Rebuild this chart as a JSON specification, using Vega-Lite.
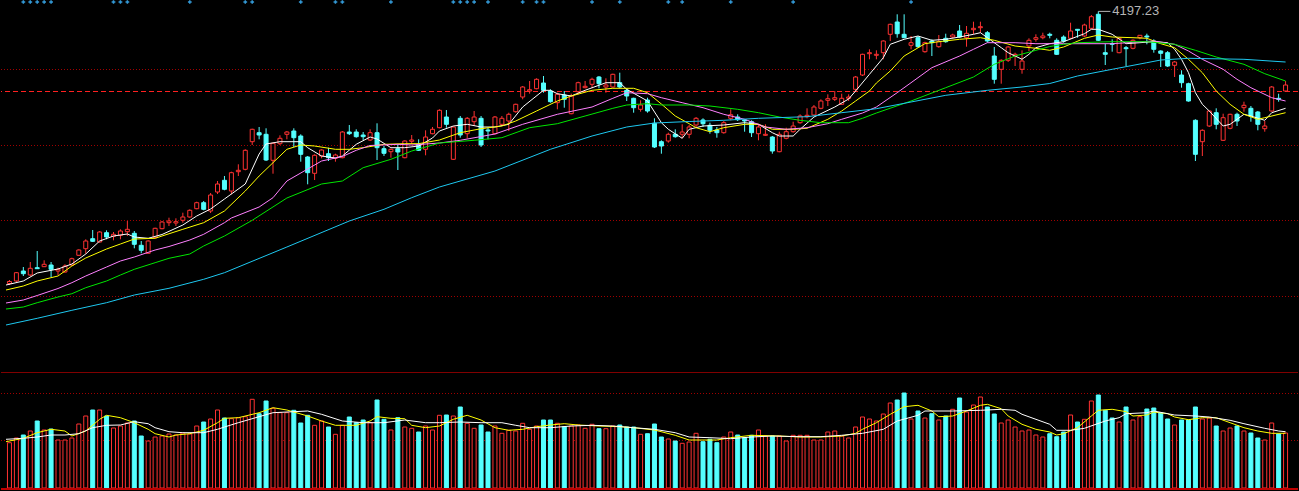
{
"$schema": "https://vega.github.io/schema/vega-lite/v6.json",
"width": 1299, "height": 491,
"autosize": {"type": "fit", "contains": "padding"},
"padding": 0,
"background": "#000000",
"config": {"view": {"stroke": null}},
"datasets": {
"k": [
{"t":0,"o":3653,"h":3660,"l":3650,"c":3657,"v":453,"d":"u"},
{"t":1,"o":3658,"h":3676,"l":3656,"c":3674.6,"v":500,"d":"u"},
{"t":2,"o":3678,"h":3686,"l":3668,"c":3672.6,"v":530,"d":"d"},
{"t":3,"o":3670,"h":3696,"l":3668,"c":3683.4,"v":570,"d":"u"},
{"t":4,"o":3684.6,"h":3718,"l":3682,"c":3682.6,"v":670,"d":"d"},
{"t":5,"o":3686.6,"h":3699.4,"l":3686,"c":3691.4,"v":580,"d":"u"},
{"t":6,"o":3690,"h":3696,"l":3666,"c":3681.4,"v":590,"d":"d"},
{"t":7,"o":3678,"h":3684.6,"l":3670,"c":3681.4,"v":480,"d":"u"},
{"t":8,"o":3676,"h":3691.4,"l":3674.6,"c":3688,"v":480,"d":"u"},
{"t":9,"o":3690,"h":3704.6,"l":3688,"c":3702.6,"v":500,"d":"u"},
{"t":10,"o":3709.4,"h":3721.4,"l":3708,"c":3720,"v":640,"d":"u"},
{"t":11,"o":3722.6,"h":3741.4,"l":3712.6,"c":3738,"v":720,"d":"u"},
{"t":12,"o":3742.6,"h":3760,"l":3736,"c":3737.4,"v":780,"d":"d"},
{"t":13,"o":3736,"h":3758,"l":3734.6,"c":3756,"v":780,"d":"u"},
{"t":14,"o":3754.6,"h":3759.4,"l":3741.4,"c":3746,"v":720,"d":"d"},
{"t":15,"o":3747.4,"h":3756,"l":3739.4,"c":3751.4,"v":600,"d":"u"},
{"t":16,"o":3749.4,"h":3761.4,"l":3741.4,"c":3758,"v":620,"d":"u"},
{"t":17,"o":3756.6,"h":3778,"l":3748,"c":3761.4,"v":650,"d":"u"},
{"t":18,"o":3753.4,"h":3758,"l":3723.4,"c":3731.4,"v":670,"d":"d"},
{"t":19,"o":3729.4,"h":3738,"l":3713.4,"c":3719.4,"v":520,"d":"d"},
{"t":20,"o":3713.4,"h":3739.4,"l":3712.6,"c":3738,"v":470,"d":"u"},
{"t":21,"o":3744.6,"h":3764.6,"l":3743.4,"c":3763.4,"v":510,"d":"u"},
{"t":22,"o":3762.6,"h":3778,"l":3761.4,"c":3776,"v":520,"d":"u"},
{"t":23,"o":3774.6,"h":3784.6,"l":3768,"c":3778,"v":540,"d":"u"},
{"t":24,"o":3774,"h":3783.4,"l":3768,"c":3776.6,"v":530,"d":"u"},
{"t":25,"o":3779.4,"h":3794.6,"l":3774.6,"c":3786,"v":550,"d":"u"},
{"t":26,"o":3786,"h":3801.4,"l":3784.6,"c":3799.4,"v":540,"d":"u"},
{"t":27,"o":3802.6,"h":3816.6,"l":3801.4,"c":3814.6,"v":620,"d":"u"},
{"t":28,"o":3814.6,"h":3818,"l":3799.4,"c":3801.4,"v":660,"d":"d"},
{"t":29,"o":3798,"h":3834,"l":3794,"c":3830,"v":690,"d":"u"},
{"t":30,"o":3836,"h":3858,"l":3832,"c":3852,"v":780,"d":"u"},
{"t":31,"o":3859.4,"h":3868,"l":3839.4,"c":3841.4,"v":700,"d":"d"},
{"t":32,"o":3838,"h":3876.6,"l":3831.4,"c":3874.6,"v":693,"d":"u"},
{"t":33,"o":3876.6,"h":3891.4,"l":3868,"c":3879.4,"v":703,"d":"u"},
{"t":34,"o":3881.4,"h":3921.4,"l":3879.4,"c":3919.4,"v":713,"d":"u"},
{"t":35,"o":3936.6,"h":3962.6,"l":3930,"c":3961.4,"v":887,"d":"u"},
{"t":36,"o":3954.6,"h":3966,"l":3941.4,"c":3950,"v":743,"d":"d"},
{"t":37,"o":3951.4,"h":3963.4,"l":3898,"c":3900,"v":870,"d":"d"},
{"t":38,"o":3899.4,"h":3934.6,"l":3872.6,"c":3933.4,"v":797,"d":"u"},
{"t":39,"o":3932.6,"h":3949.4,"l":3930,"c":3943.4,"v":753,"d":"u"},
{"t":40,"o":3951.4,"h":3958,"l":3941.4,"c":3956,"v":753,"d":"u"},
{"t":41,"o":3958,"h":3963.4,"l":3926,"c":3944.6,"v":777,"d":"d"},
{"t":42,"o":3948,"h":3951.4,"l":3896.6,"c":3911.4,"v":650,"d":"d"},
{"t":43,"o":3906,"h":3908,"l":3851.4,"c":3874.6,"v":727,"d":"d"},
{"t":44,"o":3873.4,"h":3911.4,"l":3860,"c":3909.4,"v":627,"d":"u"},
{"t":45,"o":3908,"h":3921.4,"l":3903.4,"c":3920,"v":670,"d":"u"},
{"t":46,"o":3912.6,"h":3924.6,"l":3898,"c":3904.6,"v":610,"d":"d"},
{"t":47,"o":3903.4,"h":3912.6,"l":3896.6,"c":3910,"v":537,"d":"u"},
{"t":48,"o":3904.6,"h":3958,"l":3903.4,"c":3956,"v":627,"d":"u"},
{"t":49,"o":3956,"h":3970,"l":3950,"c":3952.6,"v":710,"d":"d"},
{"t":50,"o":3956,"h":3961.4,"l":3944.6,"c":3946.6,"v":653,"d":"d"},
{"t":51,"o":3950,"h":3956,"l":3940,"c":3946.6,"v":680,"d":"d"},
{"t":52,"o":3940,"h":3961.4,"l":3938,"c":3954.6,"v":653,"d":"u"},
{"t":53,"o":3954.6,"h":3973.4,"l":3900,"c":3924.6,"v":880,"d":"d"},
{"t":54,"o":3922.6,"h":3928,"l":3908,"c":3913.4,"v":687,"d":"d"},
{"t":55,"o":3916.6,"h":3922.6,"l":3904.6,"c":3921.4,"v":580,"d":"u"},
{"t":56,"o":3922.6,"h":3931.4,"l":3880,"c":3916,"v":703,"d":"d"},
{"t":57,"o":3904.6,"h":3939.4,"l":3903.4,"c":3938,"v":610,"d":"u"},
{"t":58,"o":3937.4,"h":3950,"l":3931.4,"c":3940,"v":597,"d":"u"},
{"t":59,"o":3931.4,"h":3941.4,"l":3918,"c":3919.4,"v":560,"d":"d"},
{"t":60,"o":3921.4,"h":3959.4,"l":3909.4,"c":3946,"v":620,"d":"u"},
{"t":61,"o":3952.6,"h":3966,"l":3951.4,"c":3961.4,"v":580,"d":"u"},
{"t":62,"o":3964.6,"h":4001.4,"l":3963.4,"c":3999.4,"v":727,"d":"u"},
{"t":63,"o":3986,"h":4000,"l":3964.6,"c":3971.4,"v":730,"d":"d"},
{"t":64,"o":3901.4,"h":3967.4,"l":3900,"c":3966,"v":720,"d":"u"},
{"t":65,"o":3983.4,"h":3988,"l":3944.6,"c":3950,"v":810,"d":"d"},
{"t":66,"o":3952.6,"h":3986,"l":3943.4,"c":3983.4,"v":647,"d":"u"},
{"t":67,"o":3976.6,"h":3998,"l":3968,"c":3986,"v":597,"d":"u"},
{"t":68,"o":3983.4,"h":3988,"l":3926,"c":3930,"v":630,"d":"d"},
{"t":69,"o":3960,"h":3964.6,"l":3941.4,"c":3958,"v":560,"d":"d"},
{"t":70,"o":3952.6,"h":3988,"l":3951.4,"c":3986,"v":620,"d":"u"},
{"t":71,"o":3971.4,"h":3988,"l":3968,"c":3983.4,"v":547,"d":"u"},
{"t":72,"o":3978,"h":3994.6,"l":3958,"c":3991.4,"v":577,"d":"u"},
{"t":73,"o":3996.6,"h":4012.6,"l":3994.6,"c":4011.4,"v":570,"d":"u"},
{"t":74,"o":4026,"h":4048,"l":4021.4,"c":4046,"v":647,"d":"u"},
{"t":75,"o":4038,"h":4058,"l":4032.6,"c":4040.6,"v":587,"d":"u"},
{"t":76,"o":4042.6,"h":4063.4,"l":4041.4,"c":4061.4,"v":620,"d":"u"},
{"t":77,"o":4054,"h":4068,"l":4034.6,"c":4039.4,"v":680,"d":"d"},
{"t":78,"o":4038,"h":4041.4,"l":4014.6,"c":4016.6,"v":680,"d":"d"},
{"t":79,"o":4014.6,"h":4034.6,"l":4001.4,"c":4031.4,"v":647,"d":"u"},
{"t":80,"o":4030,"h":4038,"l":4004.6,"c":4021.4,"v":613,"d":"d"},
{"t":81,"o":3992.6,"h":4032.6,"l":3991.4,"c":4028,"v":620,"d":"u"},
{"t":82,"o":4036.6,"h":4056.6,"l":4031.4,"c":4054.6,"v":630,"d":"u"},
{"t":83,"o":4044.6,"h":4058,"l":4043.4,"c":4047.4,"v":597,"d":"u"},
{"t":84,"o":4051.4,"h":4064.6,"l":4043.4,"c":4061.4,"v":637,"d":"u"},
{"t":85,"o":4066,"h":4068,"l":4043.4,"c":4052.6,"v":593,"d":"d"},
{"t":86,"o":4046,"h":4063.4,"l":4034.6,"c":4050,"v":593,"d":"u"},
{"t":87,"o":4046,"h":4072.6,"l":4044.6,"c":4071.4,"v":620,"d":"u"},
{"t":88,"o":4054.6,"h":4074.6,"l":4043.4,"c":4046,"v":630,"d":"d"},
{"t":89,"o":4039.4,"h":4043.4,"l":4018,"c":4028,"v":610,"d":"d"},
{"t":90,"o":4023.4,"h":4024.6,"l":3994.6,"c":4004.6,"v":610,"d":"d"},
{"t":91,"o":4001.4,"h":4019.4,"l":3996.6,"c":4010,"v":537,"d":"u"},
{"t":92,"o":4020,"h":4024.6,"l":3994.6,"c":3998,"v":543,"d":"d"},
{"t":93,"o":3973.4,"h":3983.4,"l":3924,"c":3926,"v":640,"d":"d"},
{"t":94,"o":3936.6,"h":3939.4,"l":3912.6,"c":3928,"v":510,"d":"d"},
{"t":95,"o":3938,"h":3954.6,"l":3934.6,"c":3951.4,"v":490,"d":"u"},
{"t":96,"o":3951.4,"h":3961.4,"l":3944.6,"c":3946.6,"v":470,"d":"d"},
{"t":97,"o":3951.4,"h":3971.4,"l":3943.4,"c":3956,"v":447,"d":"u"},
{"t":98,"o":3951.4,"h":3970,"l":3943.4,"c":3966,"v":460,"d":"u"},
{"t":99,"o":3970,"h":3986,"l":3966,"c":3983.4,"v":547,"d":"u"},
{"t":100,"o":3980,"h":3983.4,"l":3966,"c":3972.6,"v":463,"d":"d"},
{"t":101,"o":3969.4,"h":3974.6,"l":3952.6,"c":3959.4,"v":487,"d":"d"},
{"t":102,"o":3960,"h":3966,"l":3944.6,"c":3954.6,"v":453,"d":"d"},
{"t":103,"o":3954.6,"h":3978,"l":3952.6,"c":3974.6,"v":510,"d":"u"},
{"t":104,"o":3983.4,"h":4001.4,"l":3979.4,"c":3990.6,"v":560,"d":"u"},
{"t":105,"o":3986,"h":3991.4,"l":3978,"c":3980.6,"v":530,"d":"d"},
{"t":106,"o":3980,"h":3981.4,"l":3956.6,"c":3978,"v":503,"d":"d"},
{"t":107,"o":3976.6,"h":3979.4,"l":3946,"c":3954.6,"v":527,"d":"d"},
{"t":108,"o":3952.6,"h":3970,"l":3939.4,"c":3966,"v":580,"d":"u"},
{"t":109,"o":3949.4,"h":3971.4,"l":3948,"c":3951.4,"v":520,"d":"u"},
{"t":110,"o":3946,"h":3948,"l":3912.6,"c":3918,"v":520,"d":"d"},
{"t":111,"o":3916.6,"h":3956.6,"l":3915.4,"c":3951.4,"v":520,"d":"u"},
{"t":112,"o":3943.4,"h":3964.6,"l":3941.4,"c":3956.6,"v":470,"d":"u"},
{"t":113,"o":3956.6,"h":3976.6,"l":3954.6,"c":3968,"v":527,"d":"u"},
{"t":114,"o":3974.6,"h":3991.4,"l":3972.6,"c":3988,"v":527,"d":"u"},
{"t":115,"o":3986.6,"h":4003.4,"l":3983.4,"c":3989.4,"v":527,"d":"u"},
{"t":116,"o":3990,"h":4010,"l":3988,"c":4006,"v":480,"d":"u"},
{"t":117,"o":4003.4,"h":4021.4,"l":4001.4,"c":4018,"v":480,"d":"u"},
{"t":118,"o":4019.4,"h":4031.4,"l":4008,"c":4022.6,"v":560,"d":"u"},
{"t":119,"o":4021.4,"h":4038,"l":4018,"c":4024.6,"v":570,"d":"u"},
{"t":120,"o":4011.4,"h":4032.6,"l":4010,"c":4023.4,"v":520,"d":"u"},
{"t":121,"o":4023.4,"h":4031.4,"l":4018,"c":4026,"v":500,"d":"u"},
{"t":122,"o":4041.4,"h":4068,"l":4038,"c":4066,"v":610,"d":"u"},
{"t":123,"o":4070,"h":4112.6,"l":4068,"c":4111.4,"v":710,"d":"u"},
{"t":124,"o":4112.6,"h":4121.4,"l":4101.4,"c":4114.6,"v":690,"d":"u"},
{"t":125,"o":4109.4,"h":4119.4,"l":4101.4,"c":4111.4,"v":670,"d":"u"},
{"t":126,"o":4114.6,"h":4139.4,"l":4101.4,"c":4138,"v":740,"d":"u"},
{"t":127,"o":4151.4,"h":4172.6,"l":4138,"c":4171.4,"v":850,"d":"u"},
{"t":128,"o":4176,"h":4191.4,"l":4144.6,"c":4152.6,"v":880,"d":"d"},
{"t":129,"o":4151.4,"h":4191.4,"l":4143.4,"c":4144.6,"v":950,"d":"d"},
{"t":130,"o":4129.4,"h":4148,"l":4121.4,"c":4134.6,"v":690,"d":"u"},
{"t":131,"o":4144.6,"h":4148,"l":4124.6,"c":4126.6,"v":770,"d":"d"},
{"t":132,"o":4116.6,"h":4136.6,"l":4114.6,"c":4134.6,"v":700,"d":"u"},
{"t":133,"o":4138,"h":4141.4,"l":4108,"c":4134.6,"v":743,"d":"d"},
{"t":134,"o":4126.6,"h":4150,"l":4124.6,"c":4136.6,"v":680,"d":"u"},
{"t":135,"o":4143.4,"h":4152.6,"l":4134.6,"c":4136.6,"v":720,"d":"d"},
{"t":136,"o":4146,"h":4152.6,"l":4143.4,"c":4150,"v":787,"d":"u"},
{"t":137,"o":4158,"h":4170,"l":4144.6,"c":4146,"v":900,"d":"d"},
{"t":138,"o":4144.6,"h":4168,"l":4126.6,"c":4153.4,"v":760,"d":"u"},
{"t":139,"o":4160.6,"h":4176.6,"l":4151.4,"c":4163.4,"v":830,"d":"u"},
{"t":140,"o":4164.6,"h":4176.6,"l":4154.6,"c":4166.6,"v":910,"d":"u"},
{"t":141,"o":4154.6,"h":4158,"l":4134.6,"c":4138,"v":810,"d":"d"},
{"t":142,"o":4108,"h":4126,"l":4052.6,"c":4061.4,"v":740,"d":"d"},
{"t":143,"o":4081.4,"h":4101.4,"l":4052.6,"c":4099.4,"v":650,"d":"u"},
{"t":144,"o":4099.4,"h":4128,"l":4096,"c":4126,"v":680,"d":"u"},
{"t":145,"o":4108,"h":4114.6,"l":4088,"c":4111.4,"v":610,"d":"u"},
{"t":146,"o":4081.4,"h":4119.4,"l":4072.6,"c":4098,"v":570,"d":"u"},
{"t":147,"o":4128,"h":4143.4,"l":4118,"c":4139.4,"v":580,"d":"u"},
{"t":148,"o":4141.4,"h":4151.4,"l":4136.6,"c":4144.6,"v":530,"d":"u"},
{"t":149,"o":4144.6,"h":4154.6,"l":4141.4,"c":4148,"v":510,"d":"u"},
{"t":150,"o":4151.4,"h":4154.6,"l":4143.4,"c":4149.4,"v":543,"d":"d"},
{"t":151,"o":4139.4,"h":4143.4,"l":4110,"c":4111.4,"v":513,"d":"d"},
{"t":152,"o":4146,"h":4149.4,"l":4134.6,"c":4138,"v":560,"d":"d"},
{"t":153,"o":4143.4,"h":4174.6,"l":4141.4,"c":4158,"v":730,"d":"u"},
{"t":154,"o":4161.4,"h":4162,"l":4144.6,"c":4159.4,"v":660,"d":"d"},
{"t":155,"o":4148,"h":4172.6,"l":4146,"c":4170,"v":687,"d":"u"},
{"t":156,"o":4163.4,"h":4190,"l":4161.4,"c":4186.6,"v":870,"d":"u"},
{"t":157,"o":4191.4,"h":4197.23,"l":4138,"c":4139.4,"v":930,"d":"d"},
{"t":158,"o":4114.6,"h":4132.6,"l":4090,"c":4111.4,"v":777,"d":"d"},
{"t":159,"o":4132.6,"h":4141.4,"l":4116.6,"c":4131.4,"v":700,"d":"d"},
{"t":160,"o":4114.6,"h":4144.6,"l":4113.4,"c":4143.4,"v":660,"d":"u"},
{"t":161,"o":4124.6,"h":4128,"l":4088,"c":4122.6,"v":810,"d":"d"},
{"t":162,"o":4123.4,"h":4141.4,"l":4121.4,"c":4139.4,"v":680,"d":"u"},
{"t":163,"o":4144.6,"h":4150,"l":4141.4,"c":4149.4,"v":713,"d":"u"},
{"t":164,"o":4148,"h":4152.6,"l":4131.4,"c":4146,"v":790,"d":"d"},
{"t":165,"o":4138,"h":4141.4,"l":4114.6,"c":4121.4,"v":800,"d":"d"},
{"t":166,"o":4118,"h":4119.4,"l":4086,"c":4113.4,"v":750,"d":"d"},
{"t":167,"o":4114.6,"h":4118,"l":4086,"c":4088,"v":690,"d":"d"},
{"t":168,"o":4089.4,"h":4098,"l":4066,"c":4096,"v":630,"d":"u"},
{"t":169,"o":4070,"h":4079.4,"l":4044.6,"c":4054.6,"v":680,"d":"d"},
{"t":170,"o":4052.6,"h":4054.6,"l":4016.6,"c":4018,"v":680,"d":"d"},
{"t":171,"o":3979.4,"h":3981.4,"l":3898,"c":3911.4,"v":810,"d":"d"},
{"t":172,"o":3936.6,"h":3961.4,"l":3908,"c":3959.4,"v":690,"d":"u"},
{"t":173,"o":3968,"h":3999.4,"l":3966,"c":3998,"v":700,"d":"u"},
{"t":174,"o":3994.6,"h":4003.4,"l":3961.4,"c":3971.4,"v":620,"d":"d"},
{"t":175,"o":3939.4,"h":3992.6,"l":3938,"c":3984.6,"v":570,"d":"u"},
{"t":176,"o":3963.4,"h":3992.6,"l":3961.4,"c":3991.4,"v":600,"d":"u"},
{"t":177,"o":3991.4,"h":3994.6,"l":3968,"c":3978,"v":620,"d":"d"},
{"t":178,"o":4004.6,"h":4016.6,"l":3996.6,"c":4009.4,"v":570,"d":"u"},
{"t":179,"o":4003.4,"h":4008,"l":3976.6,"c":3988,"v":550,"d":"d"},
{"t":180,"o":3996,"h":3998,"l":3959.4,"c":3971.4,"v":500,"d":"d"},
{"t":181,"o":3962.6,"h":3978,"l":3956.6,"c":3968,"v":480,"d":"u"},
{"t":182,"o":3998,"h":4048,"l":3996.6,"c":4046,"v":650,"d":"u"},
{"t":183,"o":4023.4,"h":4032.6,"l":4016.6,"c":4021.4,"v":540,"d":"d"},
{"t":184,"o":4038,"h":4058,"l":4036,"c":4050,"v":550,"d":"u"}
],
"ma": [
{"s":"MA5","t":-0.5,"p":3650},{"s":"MA5","t":2,"p":3658},{"s":"MA5","t":4,"p":3674},{"s":"MA5","t":7,"p":3682},{"s":"MA5","t":9,"p":3692},{"s":"MA5","t":11,"p":3712},{"s":"MA5","t":13,"p":3738},{"s":"MA5","t":15,"p":3748},{"s":"MA5","t":17,"p":3752},{"s":"MA5","t":18,"p":3746},{"s":"MA5","t":20,"p":3743.4},{"s":"MA5","t":22,"p":3751},{"s":"MA5","t":25,"p":3770},{"s":"MA5","t":27,"p":3788},{"s":"MA5","t":29,"p":3802},{"s":"MA5","t":31,"p":3822},{"s":"MA5","t":34,"p":3852},{"s":"MA5","t":36,"p":3912},{"s":"MA5","t":37,"p":3932},{"s":"MA5","t":39,"p":3936.6},{"s":"MA5","t":42,"p":3936.6},{"s":"MA5","t":43,"p":3924.6},{"s":"MA5","t":45,"p":3908},{"s":"MA5","t":47,"p":3904},{"s":"MA5","t":48,"p":3908},{"s":"MA5","t":50,"p":3931.4},{"s":"MA5","t":52,"p":3946},{"s":"MA5","t":53,"p":3942},{"s":"MA5","t":55,"p":3924.6},{"s":"MA5","t":57,"p":3924.6},{"s":"MA5","t":59,"p":3928},{"s":"MA5","t":61,"p":3944},{"s":"MA5","t":62,"p":3958},{"s":"MA5","t":64,"p":3968},{"s":"MA5","t":66,"p":3971.4},{"s":"MA5","t":68,"p":3966},{"s":"MA5","t":70,"p":3966},{"s":"MA5","t":72,"p":3971.4},{"s":"MA5","t":74,"p":4006},{"s":"MA5","t":77,"p":4039.4},{"s":"MA5","t":78,"p":4039.4},{"s":"MA5","t":79,"p":4032.6},{"s":"MA5","t":81,"p":4028},{"s":"MA5","t":83,"p":4039.4},{"s":"MA5","t":86,"p":4054.6},{"s":"MA5","t":88,"p":4054.6},{"s":"MA5","t":89,"p":4041.4},{"s":"MA5","t":92,"p":4018},{"s":"MA5","t":94,"p":3974.6},{"s":"MA5","t":95,"p":3961.4},{"s":"MA5","t":97,"p":3943.4},{"s":"MA5","t":98,"p":3961.4},{"s":"MA5","t":100,"p":3968},{"s":"MA5","t":103,"p":3970},{"s":"MA5","t":106,"p":3974.6},{"s":"MA5","t":108,"p":3971.4},{"s":"MA5","t":110,"p":3954.6},{"s":"MA5","t":111,"p":3948},{"s":"MA5","t":113,"p":3948},{"s":"MA5","t":114,"p":3961.4},{"s":"MA5","t":116,"p":3986},{"s":"MA5","t":119,"p":4006},{"s":"MA5","t":121,"p":4022},{"s":"MA5","t":122,"p":4038},{"s":"MA5","t":124,"p":4071.4},{"s":"MA5","t":126,"p":4104.6},{"s":"MA5","t":127,"p":4131.4},{"s":"MA5","t":129,"p":4141.4},{"s":"MA5","t":131,"p":4148},{"s":"MA5","t":133,"p":4139.4},{"s":"MA5","t":135,"p":4141.4},{"s":"MA5","t":137,"p":4146},{"s":"MA5","t":139,"p":4151.4},{"s":"MA5","t":140,"p":4154.6},{"s":"MA5","t":141,"p":4144.6},{"s":"MA5","t":143,"p":4124.6},{"s":"MA5","t":144,"p":4114.6},{"s":"MA5","t":146,"p":4101.4},{"s":"MA5","t":147,"p":4111.4},{"s":"MA5","t":148,"p":4124.6},{"s":"MA5","t":150,"p":4132.6},{"s":"MA5","t":152,"p":4136.6},{"s":"MA5","t":155,"p":4152.6},{"s":"MA5","t":156,"p":4161.4},{"s":"MA5","t":157,"p":4161.4},{"s":"MA5","t":159,"p":4151.4},{"s":"MA5","t":161,"p":4132.6},{"s":"MA5","t":163,"p":4134.6},{"s":"MA5","t":165,"p":4136.6},{"s":"MA5","t":167,"p":4134.6},{"s":"MA5","t":168,"p":4121.4},{"s":"MA5","t":169,"p":4101.4},{"s":"MA5","t":170,"p":4074.6},{"s":"MA5","t":171,"p":4034.6},{"s":"MA5","t":172,"p":4011.4},{"s":"MA5","t":173,"p":3998},{"s":"MA5","t":175,"p":3968},{"s":"MA5","t":176,"p":3971.4},{"s":"MA5","t":178,"p":3991.4},{"s":"MA5","t":179,"p":3988},{"s":"MA5","t":181,"p":3979.4},{"s":"MA5","t":182,"p":3994.6},{"s":"MA5","t":184,"p":4003.4},
{"s":"MA10","t":-0.5,"p":3640},{"s":"MA10","t":2,"p":3648},{"s":"MA10","t":4,"p":3658},{"s":"MA10","t":7,"p":3668},{"s":"MA10","t":9,"p":3688},{"s":"MA10","t":11,"p":3704},{"s":"MA10","t":14,"p":3722},{"s":"MA10","t":16,"p":3732},{"s":"MA10","t":18,"p":3742},{"s":"MA10","t":21,"p":3743.4},{"s":"MA10","t":22,"p":3748},{"s":"MA10","t":25,"p":3761.4},{"s":"MA10","t":28,"p":3774.6},{"s":"MA10","t":31,"p":3798},{"s":"MA10","t":34,"p":3838},{"s":"MA10","t":36,"p":3868},{"s":"MA10","t":38,"p":3894.6},{"s":"MA10","t":40,"p":3921.4},{"s":"MA10","t":42,"p":3930},{"s":"MA10","t":44,"p":3928},{"s":"MA10","t":47,"p":3921.4},{"s":"MA10","t":49,"p":3921.4},{"s":"MA10","t":51,"p":3924.6},{"s":"MA10","t":54,"p":3931.4},{"s":"MA10","t":57,"p":3932.6},{"s":"MA10","t":59,"p":3932.6},{"s":"MA10","t":62,"p":3940},{"s":"MA10","t":65,"p":3954.6},{"s":"MA10","t":68,"p":3962.6},{"s":"MA10","t":71,"p":3968},{"s":"MA10","t":73,"p":3978},{"s":"MA10","t":76,"p":3998},{"s":"MA10","t":79,"p":4018},{"s":"MA10","t":81,"p":4028},{"s":"MA10","t":84,"p":4039.4},{"s":"MA10","t":87,"p":4043.4},{"s":"MA10","t":90,"p":4043.4},{"s":"MA10","t":92,"p":4034.6},{"s":"MA10","t":94,"p":4012},{"s":"MA10","t":96,"p":3988},{"s":"MA10","t":98,"p":3972.6},{"s":"MA10","t":99,"p":3964.6},{"s":"MA10","t":101,"p":3956.6},{"s":"MA10","t":103,"p":3964.6},{"s":"MA10","t":106,"p":3971.4},{"s":"MA10","t":108,"p":3971.4},{"s":"MA10","t":110,"p":3961.4},{"s":"MA10","t":113,"p":3961.4},{"s":"MA10","t":115,"p":3963.4},{"s":"MA10","t":118,"p":3981.4},{"s":"MA10","t":120,"p":3998},{"s":"MA10","t":122,"p":4018},{"s":"MA10","t":124,"p":4038},{"s":"MA10","t":125,"p":4054},{"s":"MA10","t":127,"p":4078},{"s":"MA10","t":129,"p":4108},{"s":"MA10","t":132,"p":4132.6},{"s":"MA10","t":134,"p":4136.6},{"s":"MA10","t":137,"p":4141.4},{"s":"MA10","t":140,"p":4144.6},{"s":"MA10","t":142,"p":4139.4},{"s":"MA10","t":145,"p":4128},{"s":"MA10","t":148,"p":4123.4},{"s":"MA10","t":150,"p":4119.4},{"s":"MA10","t":152,"p":4126},{"s":"MA10","t":155,"p":4143.4},{"s":"MA10","t":157,"p":4150},{"s":"MA10","t":159,"p":4146},{"s":"MA10","t":162,"p":4144.6},{"s":"MA10","t":164,"p":4143.4},{"s":"MA10","t":166,"p":4132.6},{"s":"MA10","t":168,"p":4124.6},{"s":"MA10","t":170,"p":4101.4},{"s":"MA10","t":172,"p":4074.6},{"s":"MA10","t":174,"p":4038},{"s":"MA10","t":176,"p":4011.4},{"s":"MA10","t":178,"p":3991.4},{"s":"MA10","t":180,"p":3981.4},{"s":"MA10","t":181,"p":3984.6},{"s":"MA10","t":184,"p":3994.6},
{"s":"MA20","t":-0.5,"p":3614},{"s":"MA20","t":2,"p":3620},{"s":"MA20","t":4,"p":3629},{"s":"MA20","t":7,"p":3643},{"s":"MA20","t":9,"p":3654.6},{"s":"MA20","t":11,"p":3668},{"s":"MA20","t":14,"p":3686},{"s":"MA20","t":16,"p":3698},{"s":"MA20","t":18,"p":3706},{"s":"MA20","t":21,"p":3720},{"s":"MA20","t":23,"p":3727},{"s":"MA20","t":26,"p":3740},{"s":"MA20","t":28,"p":3751.4},{"s":"MA20","t":31,"p":3774.6},{"s":"MA20","t":32,"p":3784},{"s":"MA20","t":36,"p":3806},{"s":"MA20","t":38,"p":3824.6},{"s":"MA20","t":40,"p":3858},{"s":"MA20","t":43,"p":3882},{"s":"MA20","t":45,"p":3898},{"s":"MA20","t":48,"p":3907},{"s":"MA20","t":50,"p":3919.4},{"s":"MA20","t":52,"p":3929},{"s":"MA20","t":56,"p":3931.4},{"s":"MA20","t":58,"p":3930},{"s":"MA20","t":62,"p":3934},{"s":"MA20","t":65,"p":3939.4},{"s":"MA20","t":70,"p":3952},{"s":"MA20","t":74,"p":3971.4},{"s":"MA20","t":79,"p":3991.4},{"s":"MA20","t":84,"p":4006},{"s":"MA20","t":87,"p":4023.4},{"s":"MA20","t":89,"p":4034.6},{"s":"MA20","t":92,"p":4032.6},{"s":"MA20","t":94,"p":4024.6},{"s":"MA20","t":97,"p":4014.6},{"s":"MA20","t":100,"p":4004.6},{"s":"MA20","t":103,"p":3991.4},{"s":"MA20","t":106,"p":3981.4},{"s":"MA20","t":109,"p":3966},{"s":"MA20","t":112,"p":3961.4},{"s":"MA20","t":115,"p":3964.6},{"s":"MA20","t":118,"p":3972.6},{"s":"MA20","t":120,"p":3981.4},{"s":"MA20","t":123,"p":3994},{"s":"MA20","t":125,"p":4006},{"s":"MA20","t":128,"p":4034.6},{"s":"MA20","t":133,"p":4084.6},{"s":"MA20","t":137,"p":4108},{"s":"MA20","t":139,"p":4121.4},{"s":"MA20","t":141,"p":4134.6},{"s":"MA20","t":145,"p":4134.6},{"s":"MA20","t":148,"p":4132.6},{"s":"MA20","t":152,"p":4132.6},{"s":"MA20","t":159,"p":4132.6},{"s":"MA20","t":165,"p":4138},{"s":"MA20","t":168,"p":4131.4},{"s":"MA20","t":170,"p":4118},{"s":"MA20","t":172,"p":4101.4},{"s":"MA20","t":175,"p":4081.4},{"s":"MA20","t":177,"p":4061.4},{"s":"MA20","t":179,"p":4044.6},{"s":"MA20","t":182,"p":4024.6},{"s":"MA20","t":184,"p":4018},
{"s":"MA30","t":-0.5,"p":3602},{"s":"MA30","t":2,"p":3606},{"s":"MA30","t":4,"p":3614.6},{"s":"MA30","t":7,"p":3626},{"s":"MA30","t":9,"p":3632.6},{"s":"MA30","t":11,"p":3644.6},{"s":"MA30","t":14,"p":3658},{"s":"MA30","t":16,"p":3670},{"s":"MA30","t":18,"p":3681.4},{"s":"MA30","t":21,"p":3694.6},{"s":"MA30","t":23,"p":3703.4},{"s":"MA30","t":26,"p":3712},{"s":"MA30","t":28,"p":3728},{"s":"MA30","t":31,"p":3748},{"s":"MA30","t":35,"p":3779.4},{"s":"MA30","t":40,"p":3824},{"s":"MA30","t":45,"p":3852},{"s":"MA30","t":48,"p":3858},{"s":"MA30","t":51,"p":3884.6},{"s":"MA30","t":55,"p":3901.4},{"s":"MA30","t":58,"p":3918},{"s":"MA30","t":62,"p":3934},{"s":"MA30","t":67,"p":3939.4},{"s":"MA30","t":71,"p":3944.6},{"s":"MA30","t":75,"p":3964.6},{"s":"MA30","t":79,"p":3972.6},{"s":"MA30","t":83,"p":3988},{"s":"MA30","t":87,"p":4003.4},{"s":"MA30","t":89,"p":4010},{"s":"MA30","t":92,"p":4012.6},{"s":"MA30","t":94,"p":4010},{"s":"MA30","t":98,"p":4010},{"s":"MA30","t":101,"p":4008},{"s":"MA30","t":105,"p":4001.4},{"s":"MA30","t":108,"p":3994.6},{"s":"MA30","t":111,"p":3986},{"s":"MA30","t":114,"p":3979.4},{"s":"MA30","t":117,"p":3974.6},{"s":"MA30","t":121,"p":3974.6},{"s":"MA30","t":123,"p":3983.4},{"s":"MA30","t":125,"p":3994},{"s":"MA30","t":130,"p":4018},{"s":"MA30","t":135,"p":4044.6},{"s":"MA30","t":139,"p":4066},{"s":"MA30","t":142,"p":4091.4},{"s":"MA30","t":145,"p":4108},{"s":"MA30","t":148,"p":4119.4},{"s":"MA30","t":150,"p":4127},{"s":"MA30","t":152,"p":4131.4},{"s":"MA30","t":154,"p":4134.6},{"s":"MA30","t":159,"p":4136.6},{"s":"MA30","t":164,"p":4136.6},{"s":"MA30","t":168,"p":4131.4},{"s":"MA30","t":171,"p":4119.4},{"s":"MA30","t":174,"p":4106},{"s":"MA30","t":178,"p":4091.4},{"s":"MA30","t":181,"p":4072.6},{"s":"MA30","t":184,"p":4058},
{"s":"MA60","t":-0.5,"p":3570},{"s":"MA60","t":4,"p":3583.4},{"s":"MA60","t":9,"p":3599.4},{"s":"MA60","t":14,"p":3614.6},{"s":"MA60","t":18,"p":3630},{"s":"MA60","t":23,"p":3643.4},{"s":"MA60","t":28,"p":3661.4},{"s":"MA60","t":31,"p":3674.6},{"s":"MA60","t":40,"p":3726},{"s":"MA60","t":49,"p":3778},{"s":"MA60","t":54,"p":3801.4},{"s":"MA60","t":58,"p":3824.6},{"s":"MA60","t":62,"p":3846},{"s":"MA60","t":70,"p":3878},{"s":"MA60","t":78,"p":3921.4},{"s":"MA60","t":84,"p":3948},{"s":"MA60","t":89,"p":3966},{"s":"MA60","t":93,"p":3974},{"s":"MA60","t":98,"p":3977},{"s":"MA60","t":103,"p":3979.4},{"s":"MA60","t":108,"p":3983.4},{"s":"MA60","t":115,"p":3986.6},{"s":"MA60","t":120,"p":3994.6},{"s":"MA60","t":125,"p":4002.6},{"s":"MA60","t":130,"p":4016},{"s":"MA60","t":135,"p":4029.4},{"s":"MA60","t":141,"p":4039.4},{"s":"MA60","t":146,"p":4046},{"s":"MA60","t":150,"p":4053},{"s":"MA60","t":154,"p":4068},{"s":"MA60","t":159,"p":4081.4},{"s":"MA60","t":164,"p":4094.6},{"s":"MA60","t":166,"p":4100},{"s":"MA60","t":170,"p":4103.4},{"s":"MA60","t":178,"p":4101.4},{"s":"MA60","t":184,"p":4096}
],
"vma": [
{"s":"VMA5","t":-0.5,"v":463},{"s":"VMA5","t":2,"v":497},{"s":"VMA5","t":4,"v":553},{"s":"VMA5","t":6,"v":587},{"s":"VMA5","t":8,"v":570},{"s":"VMA5","t":9,"v":520},{"s":"VMA5","t":11,"v":570},{"s":"VMA5","t":13,"v":687},{"s":"VMA5","t":14,"v":727},{"s":"VMA5","t":16,"v":703},{"s":"VMA5","t":18,"v":653},{"s":"VMA5","t":20,"v":587},{"s":"VMA5","t":21,"v":543},{"s":"VMA5","t":23,"v":510},{"s":"VMA5","t":24,"v":530},{"s":"VMA5","t":26,"v":543},{"s":"VMA5","t":28,"v":577},{"s":"VMA5","t":30,"v":653},{"s":"VMA5","t":31,"v":697},{"s":"VMA5","t":33,"v":703},{"s":"VMA5","t":36,"v":753},{"s":"VMA5","t":38,"v":803},{"s":"VMA5","t":40,"v":780},{"s":"VMA5","t":43,"v":720},{"s":"VMA5","t":45,"v":670},{"s":"VMA5","t":47,"v":627},{"s":"VMA5","t":50,"v":627},{"s":"VMA5","t":52,"v":670},{"s":"VMA5","t":53,"v":713},{"s":"VMA5","t":55,"v":697},{"s":"VMA5","t":57,"v":693},{"s":"VMA5","t":58,"v":627},{"s":"VMA5","t":60,"v":603},{"s":"VMA5","t":62,"v":620},{"s":"VMA5","t":64,"v":687},{"s":"VMA5","t":66,"v":727},{"s":"VMA5","t":68,"v":680},{"s":"VMA5","t":70,"v":603},{"s":"VMA5","t":72,"v":577},{"s":"VMA5","t":74,"v":587},{"s":"VMA5","t":76,"v":613},{"s":"VMA5","t":78,"v":630},{"s":"VMA5","t":80,"v":643},{"s":"VMA5","t":82,"v":630},{"s":"VMA5","t":85,"v":620},{"s":"VMA5","t":88,"v":613},{"s":"VMA5","t":90,"v":603},{"s":"VMA5","t":93,"v":580},{"s":"VMA5","t":96,"v":527},{"s":"VMA5","t":98,"v":480},{"s":"VMA5","t":102,"v":480},{"s":"VMA5","t":104,"v":503},{"s":"VMA5","t":107,"v":527},{"s":"VMA5","t":111,"v":520},{"s":"VMA5","t":114,"v":510},{"s":"VMA5","t":117,"v":510},{"s":"VMA5","t":120,"v":520},{"s":"VMA5","t":122,"v":547},{"s":"VMA5","t":123,"v":587},{"s":"VMA5","t":125,"v":653},{"s":"VMA5","t":127,"v":737},{"s":"VMA5","t":129,"v":813},{"s":"VMA5","t":131,"v":827},{"s":"VMA5","t":133,"v":770},{"s":"VMA5","t":134,"v":713},{"s":"VMA5","t":136,"v":720},{"s":"VMA5","t":138,"v":770},{"s":"VMA5","t":140,"v":827},{"s":"VMA5","t":141,"v":837},{"s":"VMA5","t":143,"v":793},{"s":"VMA5","t":144,"v":720},{"s":"VMA5","t":146,"v":637},{"s":"VMA5","t":148,"v":587},{"s":"VMA5","t":150,"v":560},{"s":"VMA5","t":151,"v":530},{"s":"VMA5","t":152,"v":543},{"s":"VMA5","t":154,"v":603},{"s":"VMA5","t":156,"v":720},{"s":"VMA5","t":157,"v":777},{"s":"VMA5","t":159,"v":787},{"s":"VMA5","t":161,"v":763},{"s":"VMA5","t":162,"v":720},{"s":"VMA5","t":164,"v":730},{"s":"VMA5","t":165,"v":760},{"s":"VMA5","t":167,"v":743},{"s":"VMA5","t":168,"v":710},{"s":"VMA5","t":170,"v":683},{"s":"VMA5","t":172,"v":703},{"s":"VMA5","t":174,"v":703},{"s":"VMA5","t":176,"v":653},{"s":"VMA5","t":178,"v":603},{"s":"VMA5","t":180,"v":570},{"s":"VMA5","t":182,"v":547},{"s":"VMA5","t":184,"v":547},
{"s":"VMA10","t":-0.5,"v":487},{"s":"VMA10","t":2,"v":497},{"s":"VMA10","t":4,"v":510},{"s":"VMA10","t":6,"v":530},{"s":"VMA10","t":8,"v":530},{"s":"VMA10","t":10,"v":543},{"s":"VMA10","t":12,"v":603},{"s":"VMA10","t":14,"v":627},{"s":"VMA10","t":16,"v":630},{"s":"VMA10","t":18,"v":663},{"s":"VMA10","t":20,"v":643},{"s":"VMA10","t":21,"v":603},{"s":"VMA10","t":23,"v":563},{"s":"VMA10","t":25,"v":553},{"s":"VMA10","t":28,"v":553},{"s":"VMA10","t":30,"v":587},{"s":"VMA10","t":31,"v":610},{"s":"VMA10","t":33,"v":653},{"s":"VMA10","t":36,"v":713},{"s":"VMA10","t":38,"v":753},{"s":"VMA10","t":43,"v":770},{"s":"VMA10","t":45,"v":737},{"s":"VMA10","t":48,"v":670},{"s":"VMA10","t":51,"v":653},{"s":"VMA10","t":54,"v":653},{"s":"VMA10","t":57,"v":680},{"s":"VMA10","t":60,"v":653},{"s":"VMA10","t":62,"v":653},{"s":"VMA10","t":65,"v":660},{"s":"VMA10","t":68,"v":653},{"s":"VMA10","t":71,"v":653},{"s":"VMA10","t":73,"v":627},{"s":"VMA10","t":75,"v":603},{"s":"VMA10","t":78,"v":603},{"s":"VMA10","t":81,"v":620},{"s":"VMA10","t":84,"v":627},{"s":"VMA10","t":87,"v":620},{"s":"VMA10","t":90,"v":603},{"s":"VMA10","t":93,"v":587},{"s":"VMA10","t":96,"v":553},{"s":"VMA10","t":98,"v":510},{"s":"VMA10","t":101,"v":503},{"s":"VMA10","t":104,"v":493},{"s":"VMA10","t":107,"v":510},{"s":"VMA10","t":110,"v":520},{"s":"VMA10","t":114,"v":513},{"s":"VMA10","t":117,"v":513},{"s":"VMA10","t":120,"v":527},{"s":"VMA10","t":123,"v":547},{"s":"VMA10","t":126,"v":587},{"s":"VMA10","t":128,"v":670},{"s":"VMA10","t":131,"v":727},{"s":"VMA10","t":132,"v":770},{"s":"VMA10","t":136,"v":770},{"s":"VMA10","t":140,"v":777},{"s":"VMA10","t":143,"v":787},{"s":"VMA10","t":145,"v":777},{"s":"VMA10","t":146,"v":737},{"s":"VMA10","t":150,"v":637},{"s":"VMA10","t":151,"v":577},{"s":"VMA10","t":153,"v":577},{"s":"VMA10","t":155,"v":597},{"s":"VMA10","t":158,"v":670},{"s":"VMA10","t":160,"v":703},{"s":"VMA10","t":161,"v":743},{"s":"VMA10","t":164,"v":753},{"s":"VMA10","t":165,"v":770},{"s":"VMA10","t":168,"v":730},{"s":"VMA10","t":171,"v":720},{"s":"VMA10","t":173,"v":710},{"s":"VMA10","t":176,"v":677},{"s":"VMA10","t":178,"v":643},{"s":"VMA10","t":181,"v":597},{"s":"VMA10","t":183,"v":570},{"s":"VMA10","t":184,"v":563}
],
"mk": [{"t":2},{"t":3},{"t":4},{"t":5},{"t":6},{"t":15},{"t":16},{"t":17},{"t":26},{"t":34},{"t":35},{"t":42},{"t":47},{"t":48},{"t":55},{"t":64},{"t":65},{"t":66},{"t":67},{"t":69},{"t":74},{"t":76},{"t":77},{"t":84},{"t":88},{"t":95},{"t":97},{"t":104},{"t":113},{"t":130}],
"gdot": [{"p":4081},{"p":3929},{"p":3779},{"p":3627}],
"gdash": [{"p":4037}],
"hi": [{"t":157,"p":4197.23,"label":"4197.23"}],
"vsep": [{"v":1155}],
"vdot": [{"v":945},{"v":475}],
"vbase": [{"v":-10}]
},
"layer": [
{"layer": [
 {"data": {"name": "gdot"}, "mark": {"type": "rule", "stroke": "#a00000", "strokeWidth": 1, "strokeDash": [1, 2]},
  "encoding": {"y": {"field": "p", "type": "quantitative", "scale": {"domain": [3476, 4218], "range": [371, 0], "nice": false, "zero": false}, "axis": null}}},
 {"data": {"name": "gdash"}, "mark": {"type": "rule", "color": "#ff2020", "stroke": "#ff2020", "strokeWidth": 1.2, "strokeOpacity": 1, "strokeDash": [5, 3]},
  "encoding": {"y": {"field": "p", "type": "quantitative", "scale": {"domain": [3476, 4218], "range": [371, 0], "nice": false, "zero": false}, "axis": null}}},
 {"data": {"name": "k"}, "mark": {"type": "rule", "strokeWidth": 1},
  "encoding": {
   "x": {"field": "t", "type": "quantitative", "scale": {"domain": [-0.5, 185.0714], "nice": false, "zero": false}, "axis": null},
   "y": {"field": "l", "type": "quantitative", "scale": {"domain": [3476, 4218], "range": [371, 0], "nice": false, "zero": false}, "axis": null},
   "y2": {"field": "h"},
   "stroke": {"field": "d", "type": "nominal", "scale": {"domain": ["u", "d"], "range": ["#ff3232", "#54ffff"]}, "legend": null}}},
 {"data": {"name": "k"}, "mark": {"type": "bar", "width": 4, "strokeWidth": 1},
  "encoding": {
   "x": {"field": "t", "type": "quantitative", "scale": {"domain": [-0.5, 185.0714], "nice": false, "zero": false}, "axis": null},
   "y": {"field": "o", "type": "quantitative", "scale": {"domain": [3476, 4218], "range": [371, 0], "nice": false, "zero": false}, "axis": null},
   "y2": {"field": "c"},
   "fill": {"field": "d", "type": "nominal", "scale": {"domain": ["u", "d"], "range": ["#000000", "#54ffff"]}, "legend": null},
   "stroke": {"field": "d", "type": "nominal", "scale": {"domain": ["u", "d"], "range": ["#ff3232", "#54ffff"]}, "legend": null}}},
 {"data": {"name": "ma"}, "mark": {"type": "line", "strokeWidth": 1},
  "encoding": {
   "x": {"field": "t", "type": "quantitative", "scale": {"domain": [-0.5, 185.0714], "nice": false, "zero": false}, "axis": null},
   "y": {"field": "p", "type": "quantitative", "scale": {"domain": [3476, 4218], "range": [371, 0], "nice": false, "zero": false}, "axis": null},
   "color": {"field": "s", "type": "nominal", "scale": {"domain": ["MA5", "MA10", "MA20", "MA30", "MA60", "VMA5", "VMA10"], "range": ["#ffffff", "#ffff00", "#ff80ff", "#00e600", "#1ec8f0", "#ffff00", "#ffffff"]}, "legend": null}}},
 {"data": {"name": "hi"}, "mark": {"type": "rule", "stroke": "#b4b4b4", "strokeWidth": 1},
  "encoding": {
   "x": {"field": "t", "type": "quantitative", "scale": {"domain": [-0.5, 185.0714], "nice": false, "zero": false}, "axis": null},
   "x2": {"datum": 158.75},
   "y": {"field": "p", "type": "quantitative", "scale": {"domain": [3476, 4218], "range": [371, 0], "nice": false, "zero": false}, "axis": null}}},
 {"data": {"name": "hi"}, "mark": {"type": "text", "align": "left", "baseline": "middle", "dx": 14, "font": "Liberation Sans", "fontSize": 13, "fill": "#b4b4b4"},
  "encoding": {
   "x": {"field": "t", "type": "quantitative", "scale": {"domain": [-0.5, 185.0714], "nice": false, "zero": false}, "axis": null},
   "y": {"field": "p", "type": "quantitative", "scale": {"domain": [3476, 4218], "range": [371, 0], "nice": false, "zero": false}, "axis": null},
   "text": {"field": "label"}}},
 {"data": {"name": "mk"}, "mark": {"type": "point", "shape": "cross", "filled": true, "size": 14, "fill": "#3399d6", "opacity": 1},
  "encoding": {
   "x": {"field": "t", "type": "quantitative", "scale": {"domain": [-0.5, 185.0714], "nice": false, "zero": false}, "axis": null},
   "y": {"datum": 4216, "type": "quantitative", "scale": {"domain": [3476, 4218], "range": [371, 0], "nice": false, "zero": false}, "axis": null}}}
]},
{"layer": [
 {"data": {"name": "vsep"}, "mark": {"type": "rule", "stroke": "#800000", "strokeWidth": 1},
  "encoding": {"y": {"field": "v", "type": "quantitative", "scale": {"domain": [0, 1160], "range": [487, 371], "nice": false, "zero": false}, "axis": null}}},
 {"data": {"name": "vdot"}, "mark": {"type": "rule", "stroke": "#a00000", "strokeWidth": 1, "strokeDash": [1, 2]},
  "encoding": {"y": {"field": "v", "type": "quantitative", "scale": {"domain": [0, 1160], "range": [487, 371], "nice": false, "zero": false}, "axis": null}}},
 {"data": {"name": "k"}, "mark": {"type": "bar", "width": 4, "strokeWidth": 1},
  "encoding": {
   "x": {"field": "t", "type": "quantitative", "scale": {"domain": [-0.5, 185.0714], "nice": false, "zero": false}, "axis": null},
   "y": {"field": "v", "type": "quantitative", "scale": {"domain": [0, 1160], "range": [487, 371], "nice": false, "zero": false}, "axis": null},
   "fill": {"field": "d", "type": "nominal", "scale": {"domain": ["u", "d"], "range": ["#000000", "#54ffff"]}, "legend": null},
   "stroke": {"field": "d", "type": "nominal", "scale": {"domain": ["u", "d"], "range": ["#ff3232", "#54ffff"]}, "legend": null}}},
 {"data": {"name": "vma"}, "mark": {"type": "line", "strokeWidth": 1},
  "encoding": {
   "x": {"field": "t", "type": "quantitative", "scale": {"domain": [-0.5, 185.0714], "nice": false, "zero": false}, "axis": null},
   "y": {"field": "v", "type": "quantitative", "scale": {"domain": [0, 1160], "range": [487, 371], "nice": false, "zero": false}, "axis": null},
   "color": {"field": "s", "type": "nominal", "scale": {"domain": ["MA5", "MA10", "MA20", "MA30", "MA60", "VMA5", "VMA10"], "range": ["#ffffff", "#ffff00", "#ff80ff", "#00e600", "#1ec8f0", "#ffff00", "#ffffff"]}, "legend": null}}},
 {"data": {"name": "vbase"}, "mark": {"type": "rule", "stroke": "#c00000", "strokeWidth": 2},
  "encoding": {"y": {"field": "v", "type": "quantitative", "scale": {"domain": [0, 1160], "range": [487, 371], "nice": false, "zero": false}, "axis": null}}}
]}
],
"resolve": {"scale": {"y": "independent"}}
}
